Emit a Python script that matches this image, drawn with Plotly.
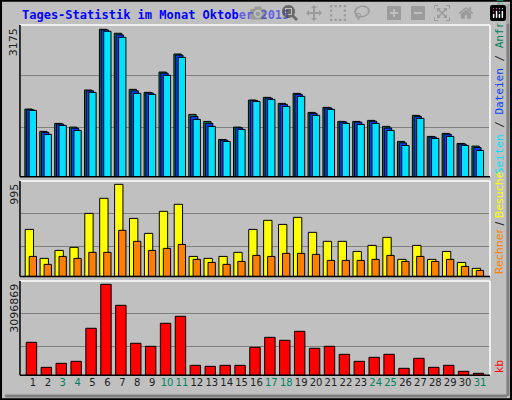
import plotly.graph_objects as go

days = list(range(1, 32))
weekend = [3, 4, 10, 11, 17, 18, 24, 25, 31]
anfragen = [1458, 977, 1149, 1070, 1868, 3175, 3089, 1882, 1817, 2255, 2643, 1343, 1192, 804, 1070, 1652,
            1710, 1580, 1796, 1386, 1494, 1192, 1192, 1214, 1085, 761, 1322, 869, 934, 718, 661]
dateien = [1445, 955, 1135, 1045, 1850, 3160, 3055, 1850, 1805, 2230, 2620, 1300, 1150, 790, 1055, 1645,
           1695, 1560, 1775, 1365, 1480, 1180, 1175, 1195, 1050, 730, 1300, 855, 915, 705, 630]
seiten = [1429, 912, 1106, 998, 1817, 3132, 3002, 1796, 1774, 2184, 2571, 1235, 1085, 761, 1020, 1623,
          1666, 1516, 1731, 1322, 1451, 1149, 1128, 1149, 998, 675, 1257, 826, 869, 675, 567]
besuche = [508, 195, 281, 314, 681, 844, 995, 627, 465, 703, 779, 216, 195, 216, 260, 508,
           606, 562, 638, 476, 379, 379, 270, 335, 422, 184, 335, 184, 270, 151, 87]
rechner = [216, 130, 216, 195, 260, 260, 498, 379, 281, 303, 346, 184, 151, 130, 162, 227,
           216, 249, 249, 238, 173, 173, 173, 184, 227, 162, 216, 162, 184, 108, 65]
kb = [1123000, 272000, 408000, 476000, 1600000, 3096869, 2382000, 1089000, 987000, 1770000, 2008000,
      340000, 306000, 340000, 340000, 953000, 1293000, 1191000, 1497000, 919000, 987000, 715000,
      476000, 613000, 715000, 238000, 579000, 272000, 340000, 136000, 68000]

fig = go.Figure()
def bar(y, color, offset, width, ax):
    fig.add_trace(go.Bar(x=days, y=y, marker=dict(color=color, line=dict(color="black", width=1)),
                         offset=offset, width=width, yaxis=ax, xaxis="x", hoverinfo="skip"))

bar(anfragen, "#00805c", -0.54, 0.49, "y")
bar(dateien, "#0040ff", -0.42, 0.49, "y")
bar(seiten, "#00e0ff", -0.25, 0.49, "y")
bar(besuche, "#ffff00", -0.52, 0.56, "y2")
bar(rechner, "#ff8000", -0.25, 0.49, "y2")
bar(kb, "#ff0000", -0.45, 0.70, "y3")

ticktext = [f"<span style='color:#00805c'>{d}</span>" if d in weekend else str(d) for d in days]
yax = dict(showticklabels=False, gridcolor="#808080", zeroline=False, showline=False, fixedrange=True)
fig.update_layout(
    width=512, height=400, margin=dict(l=0, r=0, t=0, b=0, autoexpand=False),
    paper_bgcolor="#c0c0c0", plot_bgcolor="#c0c0c0", barmode="overlay", showlegend=False,
    font=dict(family="DejaVu Sans", size=11, color="#202020"),
    xaxis=dict(domain=[0.039, 0.957], range=[0.13, 31.67], anchor="y3", tickvals=days, ticktext=ticktext,
               tickangle=0, showgrid=False, showline=False, ticks="", tickfont=dict(size=10),
               automargin=False),
    yaxis=dict(domain=[0.558, 0.9375], range=[0, 3267], tickvals=[1070, 2186], **yax),
    yaxis2=dict(domain=[0.309, 0.5475], range=[0, 1031], tickvals=[328, 685], **yax),
    yaxis3=dict(domain=[0.0617, 0.2975], range=[0, 3209000], tickvals=[997000, 2120000], **yax),
)
shapes = [dict(type="rect", xref="paper", yref="paper", x0=0.002, x1=0.998, y0=0.002, y1=0.998,
               line=dict(color="black", width=2)),
          dict(type="line", xref="paper", yref="paper", x0=0.992, x1=0.992, y0=0.01, y1=0.99,
               line=dict(color="#808080", width=3)),
          dict(type="line", xref="paper", yref="paper", x0=0.01, x1=0.99, y0=0.01, y1=0.01,
               line=dict(color="#808080", width=3))]
for lo, hi in [(0.558, 0.9375), (0.309, 0.5475), (0.0617, 0.2975)]:
    shapes += [
        dict(type="line", xref="paper", yref="paper", x0=0.039, x1=0.957, y0=hi, y1=hi, line=dict(color="white", width=1.5)),
        dict(type="line", xref="paper", yref="paper", x0=0.957, x1=0.957, y0=lo, y1=hi, line=dict(color="white", width=1.5)),
        dict(type="line", xref="paper", yref="paper", x0=0.039, x1=0.039, y0=lo, y1=hi, line=dict(color="black", width=1.5)),
        dict(type="line", xref="paper", yref="paper", x0=0.039, x1=0.957, y0=lo, y1=lo, line=dict(color="black", width=1.5)),
    ]
fig.update_layout(shapes=shapes)

mono = "DejaVu Sans Mono"
ann = [
    dict(text="<b>Tages-Statistik im Monat Oktober 2015</b>", x=0.039, y=0.985, xanchor="left", yanchor="top",
         font=dict(family=mono, size=12, color="#0000ff")),
    dict(text="3175", x=0.028, y=0.935, textangle=-90, xanchor="center", yanchor="top", font=dict(size=11)),
    dict(text="995", x=0.028, y=0.545, textangle=-90, xanchor="center", yanchor="top", font=dict(size=11)),
    dict(text="3096869", x=0.028, y=0.295, textangle=-90, xanchor="center", yanchor="top", font=dict(size=11)),
    dict(text="<span style='color:#00e0ff'>Seiten</span> / <span style='color:#0040ff'>Dateien</span> / "
              "<span style='color:#00805c'>Anfragen</span>",
         x=0.976, y=0.56, textangle=-90, xanchor="center", yanchor="bottom", font=dict(family=mono, size=11, color="#202020")),
    dict(text="<span style='color:#ff8000'>Rechner</span> / <span style='color:#ffff00'>Besuche</span>",
         x=0.976, y=0.31, textangle=-90, xanchor="center", yanchor="bottom", font=dict(size=11, color="#202020")),
    dict(text="<span style='color:#ff0000'>kb</span>", x=0.976, y=0.063, textangle=-90, xanchor="center",
         yanchor="bottom", font=dict(size=11)),
]
for a in ann:
    a.update(xref="paper", yref="paper", showarrow=False)
fig.update_layout(annotations=ann)
fig.write_html("out.html", post_script="document.body.style.margin='0';document.body.style.overflow='hidden';")
